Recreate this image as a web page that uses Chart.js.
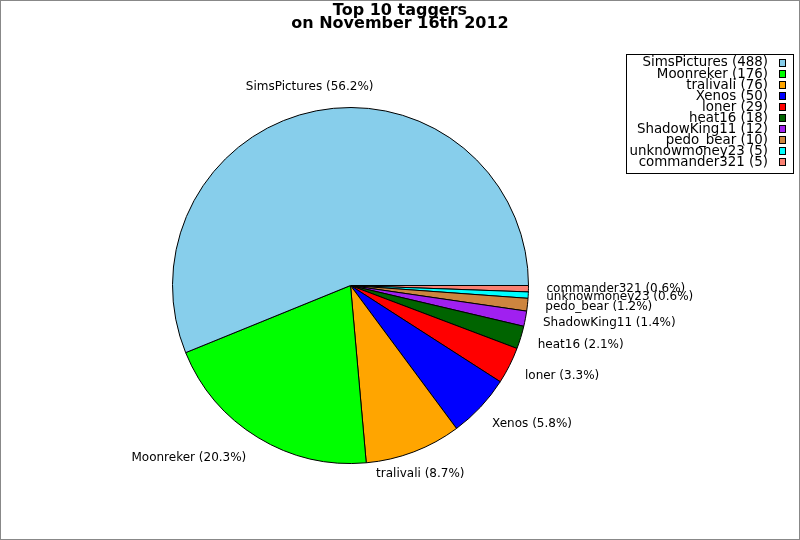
<!DOCTYPE html>
<html>
<head>
<meta charset="utf-8">
<title>Top 10 taggers</title>
<script src="https://cdn.jsdelivr.net/npm/chart.js@4.4.0/dist/chart.umd.min.js"></script>
<style>
    body { margin: 0; background: #fff; }
    canvas { display: block; }
</style>
</head>
<body>
<canvas id="pieChart" width="800" height="540"></canvas>
<script>
var titleLines = ['Top 10 taggers', 'on November 16th 2012']
var taggers = [
    'SimsPictures',
    'Moonreker',
    'tralivali',
    'Xenos',
    'loner',
    'heat16',
    'ShadowKing11',
    'pedo_bear',
    'unknowmoney23',
    'commander321'
]
var tagCounts = [488, 176, 76, 50, 29, 18, 12, 10, 5, 5]
var sliceColors = [
    '#87ceeb',
    '#00ff00',
    '#ffa500',
    '#0000ff',
    '#ff0000',
    '#006400',
    '#a020f0',
    '#cd853f',
    '#00ffff',
    '#fa8072'
]

var total = tagCounts.reduce((a, b) => a + b, 0)
var fontName = "'DejaVu Sans', sans-serif"

// reference goes counter clockwise from 3 o'clock, chart.js goes clockwise
var chartLabels = taggers.slice().reverse()
var chartValues = tagCounts.slice().reverse()
var chartColors = sliceColors.slice().reverse()

var decorations = {
    id: 'decorations',
    afterDraw(chart) {
        var ctx = chart.ctx
        ctx.save()

        // slice labels
        var arcs = chart.getDatasetMeta(0).data
        ctx.font = '12px ' + fontName
        ctx.fillStyle = '#000'
        ctx.textBaseline = 'middle'
        arcs.forEach((arc, i) => {
            var mid = (arc.startAngle + arc.endAngle) / 2
            var r = arc.outerRadius * 1.135
            var px = arc.x + Math.cos(mid) * r
            var py = arc.y + Math.sin(mid) * r
            var deg = ((-mid * 180 / Math.PI) % 360 + 360) % 360
            var text = chartLabels[i] + ' (' + (chartValues[i] / total * 100).toFixed(1) + '%)'
            if (Math.abs(deg - 90) < 30 || Math.abs(deg - 270) < 30) {
                ctx.textAlign = 'center'
                px -= 2
            } else if (Math.cos(mid) > 0) {
                ctx.textAlign = 'left'
                px -= 6
            } else {
                ctx.textAlign = 'right'
                px += 1
            }
            ctx.fillText(text, px, py)
        })

        // title
        ctx.font = 'bold 16px ' + fontName
        ctx.textAlign = 'center'
        titleLines.forEach((line, i) => {
            ctx.fillText(line, 400, 11 + i * 13)
        })

        // legend box
        ctx.lineWidth = 1
        ctx.strokeStyle = '#000'
        ctx.strokeRect(626.5, 54.5, 167, 119)
        ctx.font = '13.4px ' + fontName
        ctx.textAlign = 'right'
        taggers.forEach((name, i) => {
            var y = 63 + i * 11.05
            ctx.fillStyle = '#000'
            ctx.fillText(name + ' (' + tagCounts[i] + ')', 768, y)
            ctx.fillStyle = sliceColors[i]
            ctx.fillRect(779, Math.round(y - 4), 7, 8)
            ctx.strokeRect(779.5, Math.round(y - 4) + 0.5, 6, 7)
        })

        // image frame
        ctx.strokeStyle = '#888'
        ctx.strokeRect(0.5, 0.5, 799, 539)
        ctx.restore()
    }
}

var pieChart = new Chart(document.querySelector('#pieChart'), {
    type: 'pie',
    data: {
        labels: chartLabels,
        datasets: [{
            data: chartValues,
            backgroundColor: chartColors,
            borderColor: '#000',
            borderWidth: 1,
            hoverOffset: 0
        }]
    },
    options: {
        responsive: false,
        animation: false,
        rotation: 90,
        layout: {
            padding: { top: 107, bottom: 76, left: 172, right: 271 }
        },
        plugins: {
            legend: { display: false },
            title: { display: false },
            tooltip: { enabled: false }
        }
    },
    plugins: [decorations]
})
</script>
</body>
</html>
